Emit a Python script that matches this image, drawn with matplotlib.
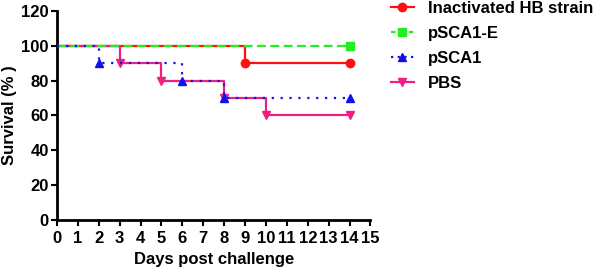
import matplotlib
matplotlib.use("Agg")
import matplotlib.pyplot as plt
from matplotlib.lines import Line2D

plt.rcParams['font.family'] = ['Liberation Sans', 'DejaVu Sans']
plt.rcParams['font.weight'] = 'bold'

# Data (Kaplan-Meier steps)
inact_days = [0, 9, 14]
inact_surv = [100, 90, 90]
psca1e_days = [0, 14]
psca1e_surv = [100, 100]
psca1_days = [0, 2, 6, 8, 14]
psca1_surv = [100, 90, 80, 70, 70]
pbs_days = [0, 3, 5, 8, 10, 14]
pbs_surv = [100, 90, 80, 70, 60, 60]

labels = ["Inactivated HB strain", "pSCA1-E", "pSCA1", "PBS"]
x_ticks = list(range(0, 16))
y_ticks = [0, 20, 40, 60, 80, 100, 120]

c_red = '#FF1010'
c_green = '#22EE22'
c_blue = '#1010EE'
c_pink = '#EE1F80'

fig = plt.figure(figsize=(5.97, 2.70), dpi=100)
ax = fig.add_axes([0.0955, 0.185, 0.525, 0.775])

ax.plot(inact_days, inact_surv, drawstyle='steps-post', color=c_red, lw=1.6,
        marker='o', ms=6, markevery=list(range(1, len(inact_days))), zorder=3)
ax.plot(psca1e_days, psca1e_surv, drawstyle='steps-post', color=c_green, lw=1.6,
        ls=(0, (4, 2)), marker='s', ms=6, markevery=[1], zorder=4)
ax.plot(pbs_days, pbs_surv, drawstyle='steps-post', color=c_pink, lw=1.6,
        marker='v', ms=6, markevery=list(range(1, len(pbs_days))), zorder=3)
ax.plot(psca1_days, psca1_surv, drawstyle='steps-post', color=c_blue, lw=1.6,
        ls=(0, (1, 3)), marker='^', ms=6, markevery=list(range(1, len(psca1_days))), zorder=5)

ax.set_xlim(0, 15)
ax.set_ylim(0, 120)
ax.set_xticks(x_ticks)
ax.set_yticks(y_ticks)
ax.tick_params(axis='y', direction='out', length=4, width=1.5, labelsize=12, pad=2)
ax.tick_params(axis='x', direction='out', length=4, width=1.5, labelsize=12, pad=4)
for lab in ax.get_xticklabels() + ax.get_yticklabels():
    lab.set_fontweight('bold')
for s in ['top', 'right']:
    ax.spines[s].set_visible(False)
for s in ['left', 'bottom']:
    ax.spines[s].set_linewidth(2)
ax.set_xlabel("Days post challenge", fontsize=12, fontweight='bold', labelpad=4)
ax.set_ylabel("Survival (% )", fontsize=12, fontweight='bold', labelpad=3)

handles = [
    Line2D([], [], color=c_red, lw=1.6, marker='o', ms=6),
    Line2D([], [], color=c_green, lw=1.6, ls=(0, (2, 2)), marker='s', ms=6),
    Line2D([], [], color=c_blue, lw=1.6, ls=(0, (1, 2)), marker='^', ms=6),
    Line2D([], [], color=c_pink, lw=1.6, marker='v', ms=6),
]
leg = fig.legend(handles, labels, loc='upper left', bbox_to_anchor=(0.653, 1.0),
                 frameon=False, handlelength=1.4, handletextpad=0.85,
                 borderpad=0.05, borderaxespad=0.0,
                 labelspacing=0.6, prop={'weight': 'bold', 'size': 12})

fig.savefig("out.png", dpi=100)
